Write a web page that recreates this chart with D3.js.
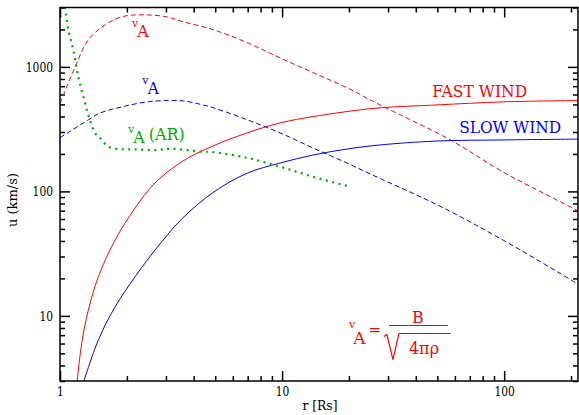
<!DOCTYPE html>
<html>
<head>
<meta charset="utf-8">
<script src="https://cdn.jsdelivr.net/npm/d3@7"></script>
<style>
  body { margin: 0; background: #fff; }
  svg { display: block; }
  svg text { font-family: "DejaVu Serif", serif; }
  .axis line { stroke: #000; stroke-width: 1.5; }
</style>
</head>
<body>
<div id="chart"></div>
<script>
// Alfven speed, fast wind (red dashed)
const fastVaR = [1.0, 1.17, 1.34, 1.6, 1.9, 2.34, 3.0, 3.6, 4.9, 7.0, 9.8, 13.8, 19.6, 27.6, 57, 99, 150, 215];
const fastVaU = [510, 1000, 1650, 2180, 2530, 2620, 2530, 2300, 1990, 1560, 1180, 900, 680, 495, 260, 143, 97, 70];

// Alfven speed, slow wind (blue dashed)
const slowVaR = [1.0, 1.34, 1.51, 1.9, 2.5, 3.1, 3.6, 4.3, 4.9, 7.0, 9.8, 13.8, 19.6, 27.6, 50, 99, 215];
const slowVaU = [270, 375, 425, 478, 525, 537, 533, 500, 470, 375, 295, 223, 169, 127, 78, 40.6, 18];

// Alfven speed above active region (green dotted)
const arVaR = [1.04, 1.053, 1.09, 1.148, 1.209, 1.274, 1.341, 1.438, 1.514, 1.65, 1.9, 2.13, 2.68, 3.2, 4.27, 4.89, 6.96, 9.8, 13.8, 20.2];
const arVaU = [3400, 2970, 1990, 1370, 837, 578, 412, 295, 268, 229, 218, 218, 215, 220, 209, 207, 186, 158, 131, 109];

// wind speeds (solid)
const fastWindR = [1.19, 1.252, 1.341, 1.488, 1.769, 2.177, 2.68, 3.53, 4.89, 6.96, 9.8, 13.8, 19.6, 27.6, 49.9, 99, 215];
const fastWindU = [2.8, 6.0, 11.1, 20.6, 40.6, 73.5, 117, 173, 232, 295, 355, 399, 438, 469, 495, 524, 537];
const slowWindR = [1.265, 1.488, 1.769, 2.177, 2.68, 3.53, 4.89, 6.96, 9.8, 13.8, 19.6, 27.6, 49.9, 99, 215];
const slowWindU = [2.8, 6.4, 11.8, 20.6, 33.8, 60, 98, 140, 169, 196, 219, 236, 254, 259, 263];

const xMajor = [1, 10, 100];
const yMajor = [10, 100, 1000];

const width = 579, height = 415;
const plot = { left: 60, right: 578, top: 7.5, bottom: 381 };

const svg = d3.select("#chart").append("svg")
    .attr("width", width)
    .attr("height", height);

const x = d3.scaleLog().domain([1, 215]).range([plot.left, plot.right]);
const y = d3.scaleLog().domain([3, 3000]).range([plot.bottom, plot.top]);

const xMinor = x.ticks().filter(v => !xMajor.includes(v));
const yMinor = y.ticks().filter(v => !yMajor.includes(v));

// axes: ticks point inward, mirrored on top/right
function addAxis(axisFn, scale, values, size, transform, labels) {
    const g = svg.append("g")
        .attr("class", "axis")
        .attr("transform", transform)
        .call(axisFn(scale)
            .tickValues(values)
            .tickSize(-size)
            .tickPadding(labels ? 6 : 0)
            .tickFormat(labels ? d3.format("") : ""));
    g.attr("font-family", null).attr("font-size", 13);
    g.selectAll("text")
        .attr("fill", "#000")
        .attr("textLength", d => String(d).length * 6.8)
        .attr("lengthAdjust", "spacingAndGlyphs");
    g.select(".domain").remove();
    return g;
}

addAxis(d3.axisBottom, x, xMinor, 5, `translate(0,${plot.bottom})`, false);
addAxis(d3.axisBottom, x, xMajor, 10, `translate(0,${plot.bottom})`, true);
addAxis(d3.axisTop, x, xMinor, 5, `translate(0,${plot.top})`, false);
addAxis(d3.axisTop, x, xMajor, 10, `translate(0,${plot.top})`, false);
addAxis(d3.axisLeft, y, yMinor, 5, `translate(${plot.left},0)`, false);
addAxis(d3.axisLeft, y, yMajor, 10, `translate(${plot.left},0)`, true)
    .selectAll("text").attr("x", -7);
addAxis(d3.axisRight, y, yMinor, 5, `translate(${plot.right},0)`, false);
addAxis(d3.axisRight, y, yMajor, 10, `translate(${plot.right},0)`, false);

svg.append("clipPath").attr("id", "clip")
    .append("rect")
    .attr("x", plot.left).attr("y", plot.top)
    .attr("width", plot.right - plot.left)
    .attr("height", plot.bottom - plot.top);

const line = d3.line()
    .x(d => x(d[0]))
    .y(d => y(d[1]))
    .curve(d3.curveCatmullRom.alpha(0.5));

const series = [
    { r: fastVaR, u: fastVaU, color: "#ff0000", dash: "5,3", w: 1 },
    { r: slowVaR, u: slowVaU, color: "#0000ff", dash: "5,3", w: 1 },
    { r: fastWindR, u: fastWindU, color: "#ff0000", dash: null, w: 1 },
    { r: slowWindR, u: slowWindU, color: "#0000ff", dash: null, w: 1 },
    { r: arVaR, u: arVaU, color: "#00aa00", dash: "2,4.5", w: 2.2 }
];

const curves = svg.append("g").attr("clip-path", "url(#clip)");
series.forEach(s => {
    curves.append("path")
        .datum(s.r.map((r, i) => [r, s.u[i]]))
        .attr("d", line)
        .attr("fill", "none")
        .attr("stroke", s.color)
        .attr("stroke-width", s.w)
        .attr("stroke-dasharray", s.dash);
});

// frame
svg.append("rect")
    .attr("x", plot.left).attr("y", plot.top)
    .attr("width", plot.right - plot.left)
    .attr("height", plot.bottom - plot.top)
    .attr("fill", "none")
    .attr("stroke", "#000")
    .attr("stroke-width", 1.5);

// axis titles
svg.append("text")
    .attr("x", 320).attr("y", 410)
    .attr("text-anchor", "middle")
    .attr("font-size", 13)
    .attr("textLength", 35)
    .attr("lengthAdjust", "spacingAndGlyphs")
    .text("r [Rs]");

svg.append("text")
    .attr("transform", "translate(17,200) rotate(-90)")
    .attr("text-anchor", "middle")
    .attr("font-size", 13)
    .text("u (km/s)");

// v_A style labels
function vaLabel(px, py, color, extra) {
    const t = svg.append("text")
        .attr("x", px).attr("y", py)
        .attr("fill", color);
    t.append("tspan").attr("dy", -10).attr("dx", -5).attr("font-size", 11).text("v");
    t.append("tspan").attr("dy", 10).attr("dx", -1).attr("font-size", 16).text("A");
    if (extra) {
        t.append("tspan").attr("dy", -3).attr("dx", 4).attr("font-size", 16).text(extra);
    }
    return t;
}
vaLabel(x(2.22), y(1750), "#ff0000");
vaLabel(x(2.47), y(610), "#0000ff");
vaLabel(x(2.13), y(245), "#00aa00", "(AR)");

svg.append("text")
    .attr("x", x(47.4)).attr("y", y(575))
    .attr("fill", "#ff0000")
    .attr("font-size", 16)
    .attr("textLength", 95)
    .attr("lengthAdjust", "spacingAndGlyphs")
    .text("FAST WIND");

svg.append("text")
    .attr("x", x(62.7)).attr("y", y(295))
    .attr("fill", "#0000ff")
    .attr("font-size", 16)
    .attr("textLength", 102)
    .attr("lengthAdjust", "spacingAndGlyphs")
    .text("SLOW WIND");

// formula v_A = B / sqrt(4 pi rho)
const f = svg.append("g")
    .attr("transform", `translate(${x(20)},${y(6)})`)
    .attr("fill", "#ff0000");
const lhs = f.append("text").attr("x", 0).attr("y", 0);
lhs.append("tspan").attr("dy", -16).attr("font-size", 11).text("v");
lhs.append("tspan").attr("dy", 16).attr("dx", -2).attr("font-size", 17).text("A");
lhs.append("tspan").attr("dy", -9).attr("dx", 3).attr("font-size", 15).text("=");
f.append("line")
    .attr("x1", 40).attr("x2", 99).attr("y1", -18).attr("y2", -18)
    .attr("stroke", "#ff0000").attr("stroke-width", 1.2);
f.append("text").attr("x", 69).attr("y", -21).attr("text-anchor", "middle")
    .attr("font-size", 16).text("B");
f.append("path")
    .attr("d", "M35,-7 L38,-9 L44,16 L50,-10 L102,-10")
    .attr("fill", "none")
    .attr("stroke", "#ff0000")
    .attr("stroke-width", 1.2);
f.append("text").attr("x", 60).attr("y", 10)
    .attr("font-size", 16)
    .text("4πρ");
</script>
</body>
</html>
